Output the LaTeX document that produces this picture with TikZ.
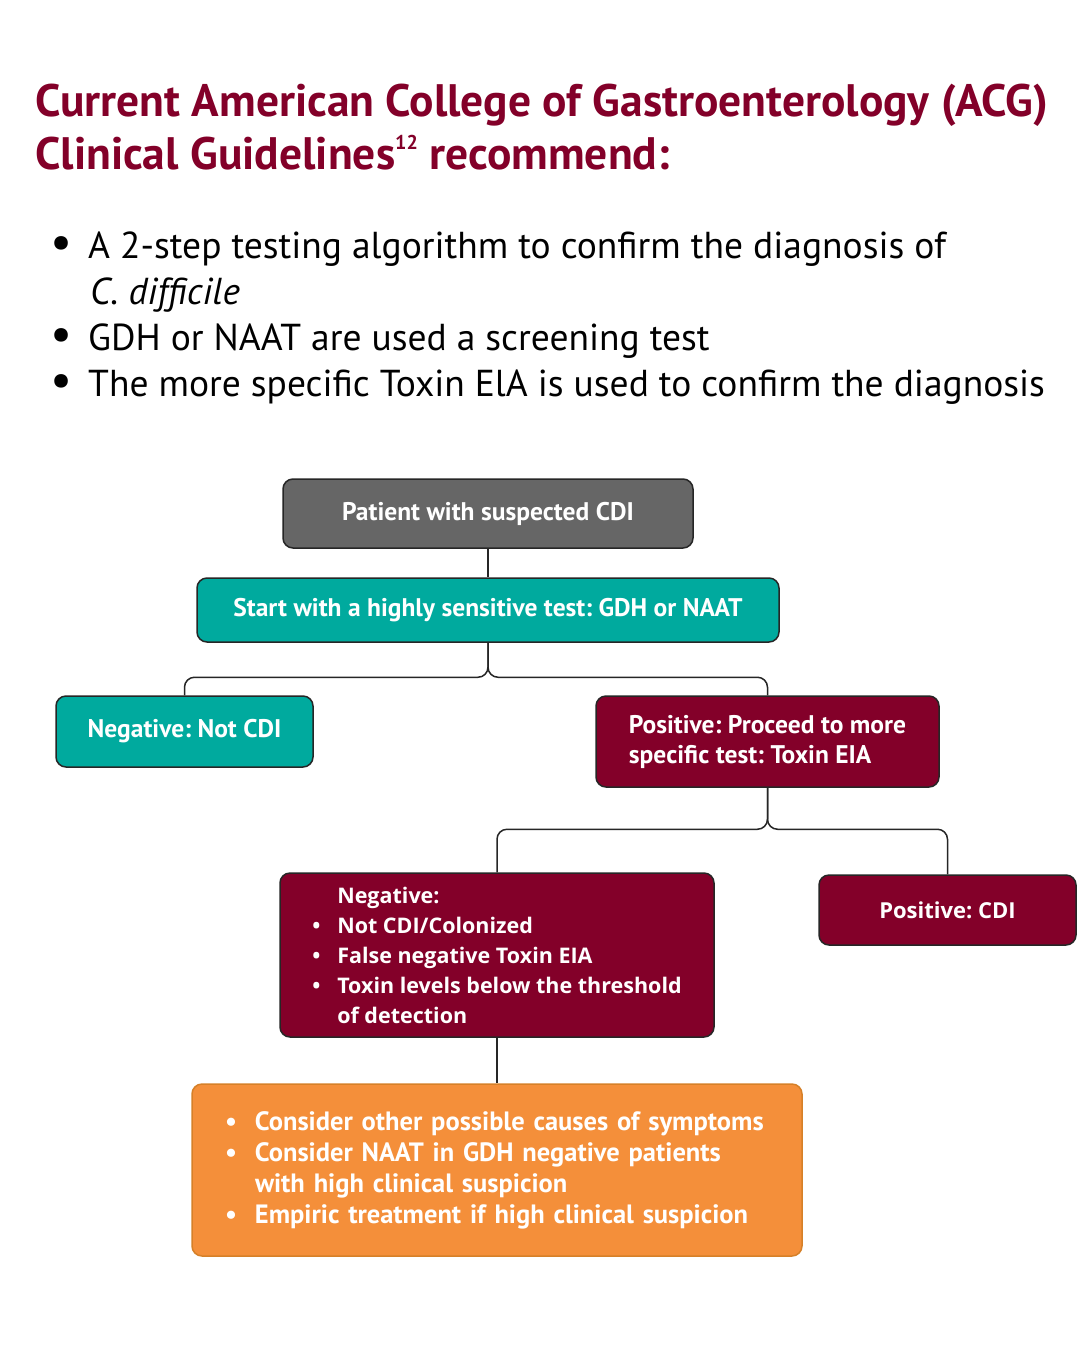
\documentclass[tikz,border=0pt]{standalone}
\usepackage{fontspec}
\setmainfont{PT Sans}
\newfontfamily\widefont{Open Sans}
\usetikzlibrary{positioning}
\definecolor{acgred}{RGB}{131,0,41}
\definecolor{acgteal}{RGB}{0,170,158}
\definecolor{acggray}{RGB}{102,102,102}
\definecolor{acgorange}{RGB}{244,143,58}
\definecolor{acgorangedark}{RGB}{214,128,40}
\tikzset{
  stepbox/.style={rectangle, rounded corners=10pt, draw=black!85, line width=1.5pt,
    fill=#1, text=white, font=\bfseries\fontsize{25.5}{30}\selectfont},
  conn/.style={draw=black!85, line width=1.5pt, rounded corners=10pt},
  titleline/.style={anchor=base west, inner sep=0pt, text=acgred,
    font=\bfseries\fontsize{45.5}{50}\selectfont},
  bodyline/.style={anchor=base west, inner sep=0pt, text=black,
    font=\fontsize{37.5}{42}\selectfont},
}
\newcommand{\itm}{\makebox[25pt][l]{\textbullet}}
\newcommand{\oitm}{\makebox[30pt][l]{\textbullet}}
\newcommand{\topitm}{\makebox[38pt][l]{\scalebox{1.3}{\textbullet}}}
\frenchspacing

\begin{document}
\begin{tikzpicture}[x=1pt, y=-1pt]
\useasboundingbox (0,0) rectangle (1080,1350);
\fill[white] (0,0) rectangle (1080,1350);

%% == HEADING ==================================================================
\node[titleline] (title1) at (35,116) {Current American College of Gastroenterology (ACG)};
\node[titleline] (title2) at (35,169) {Clinical Guidelines\raisebox{0.42em}{\fontsize{20}{20}\selectfont 12} recommend:};

% key points
\node[bodyline] (pt1)  at (50,258) {\topitm A 2-step testing algorithm to confirm the diagnosis of};
\node[bodyline] (pt1b) at (90,304) {\textit{C. difficile}};
\node[bodyline] (pt2)  at (50,350) {\topitm GDH or NAAT are used a screening test};
\node[bodyline] (pt3)  at (50,396) {\topitm The more specific Toxin ElA is used to confirm the diagnosis};

%% == ALGORITHM ================================================================
\node[stepbox=acggray, minimum width=410pt, minimum height=69pt] (P) at (488,513.5)
  {Patient with suspected CDI};
\node[stepbox=acgteal, minimum width=582pt, minimum height=64pt] (S) at (488,610)
  {Start with a highly sensitive test: GDH or NAAT};
\node[stepbox=acgteal, minimum width=257pt, minimum height=71pt] (N) at (184.5,731.5)
  {Negative: Not CDI};
\node[stepbox=acgred, minimum width=343pt, minimum height=91pt,
      inner xsep=0pt, align=left] (Pos) at (767.5,741.5)
  {Positive: Proceed to more\\specific test: Toxin EIA};

% second test
\node[stepbox=acgred, minimum width=434pt, minimum height=164pt,
      inner xsep=0pt, align=left,
      font=\widefont\bfseries\fontsize{21.5}{30}\selectfont] (Neg) at (497,955)
  {\hspace*{25pt}Negative:\\
   \itm Not CDI/Colonized\\
   \itm False negative Toxin EIA\\
   \itm Toxin levels below the threshold\\
   \hspace*{25pt}of detection};
\node[stepbox=acgred, minimum width=257pt, minimum height=70pt,
      font=\widefont\bfseries\fontsize{22}{26}\selectfont] (PC) at (947.5,910)
  {Positive: CDI};

% next steps
\node[stepbox=acgorange, draw=acgorangedark, minimum width=610pt, minimum height=172pt,
      text width=544pt, inner xsep=33pt, align=left,
      font=\bfseries\fontsize{26.5}{31}\selectfont] (O) at (497,1170)
  {\oitm Consider other possible causes of symptoms\\
   \oitm Consider NAAT in GDH negative patients\\
   \hspace*{30pt}with high clinical suspicion\\
   \oitm Empiric treatment if high clinical suspicion};

%% == CONNECTORS ===============================================================
\draw[conn] (P.south) -- (S.north);
\draw[conn] (S.south) |- ([yshift=18pt]N.north) -- (N.north);
\draw[conn] (S.south) |- ([yshift=18pt]Pos.north) -- (Pos.north);
\draw[conn] (Pos.south) |- ([yshift=43pt]Neg.north) -- (Neg.north);
\draw[conn] (Pos.south) |- ([yshift=45pt]PC.north) -- (PC.north);
\draw[conn] (Neg.south) -- (O.north);
\end{tikzpicture}
\end{document}
